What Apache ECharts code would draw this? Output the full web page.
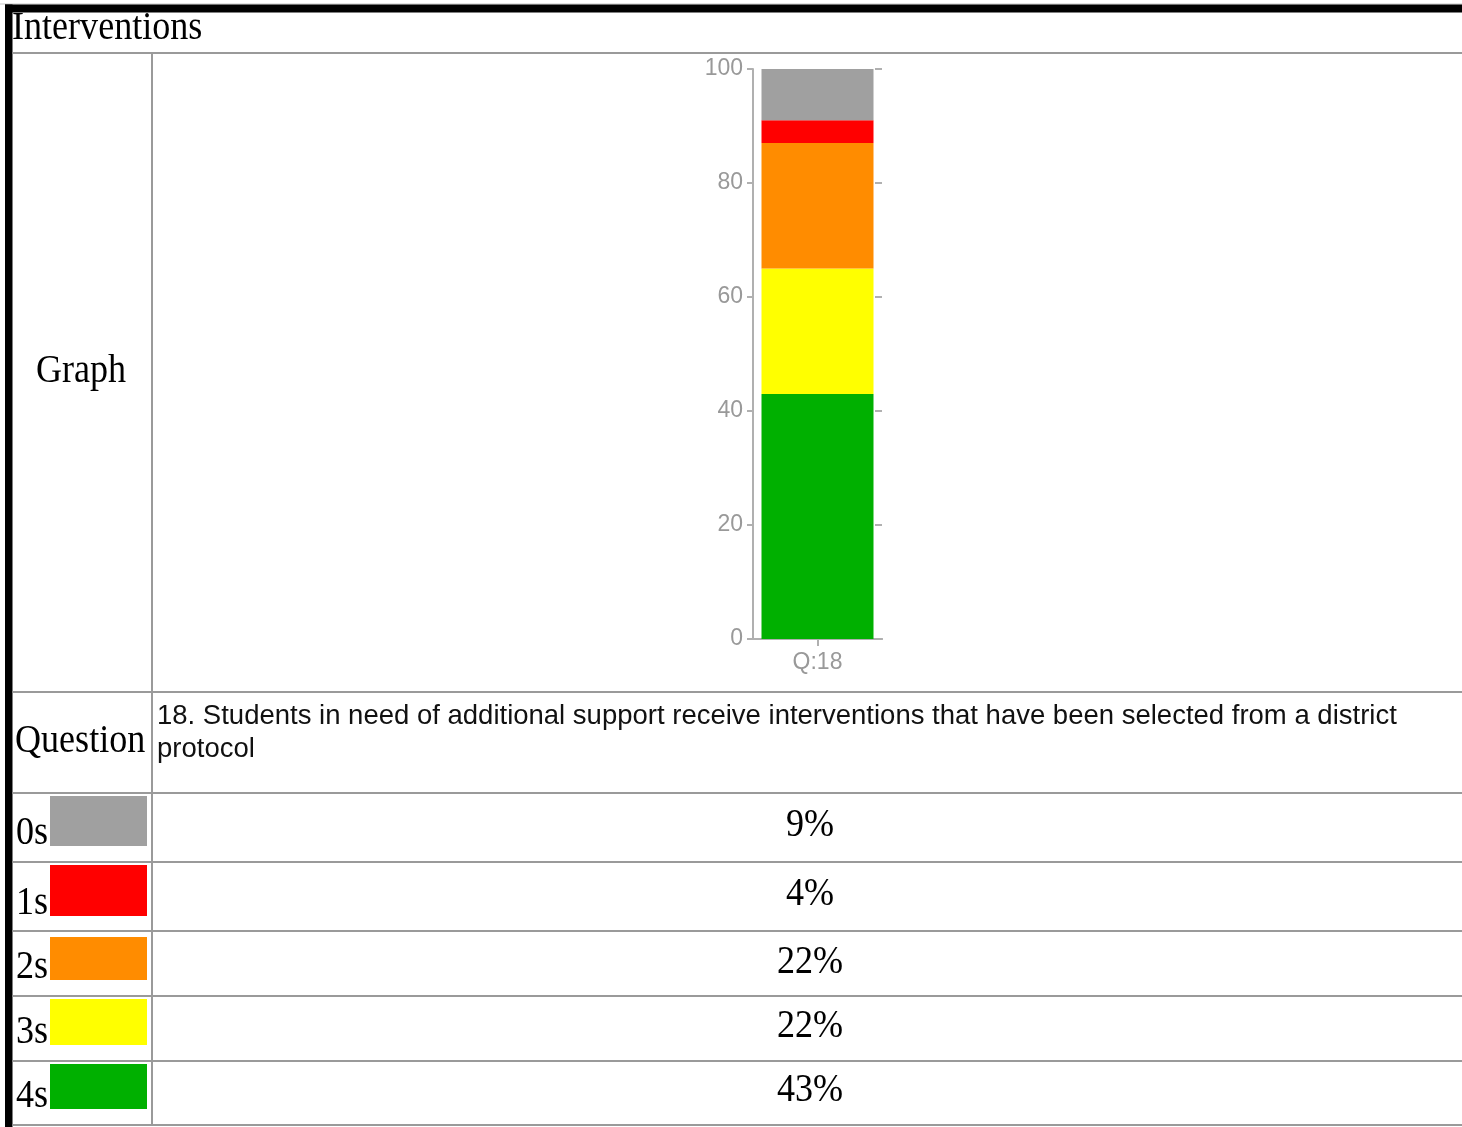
<!DOCTYPE html>
<html>
<head>
<meta charset="utf-8">
<title>Interventions</title>
<script src="https://cdn.jsdelivr.net/npm/echarts@6/dist/echarts.min.js"></script>
<style>
  html, body { margin: 0; padding: 0; background: #ffffff; }
  #chart { width: 1462px; height: 1127px; }
</style>
</head>
<body>
<div id="chart"></div>
<script>
// ---- data ----
const sectionTitle = 'Interventions';
const categories = ['Q:18'];
const questionText = '18. Students in need of additional support receive interventions that have been selected from a district protocol';
// score levels, listed as shown in the table (top to bottom)
const levels = ['0s', '1s', '2s', '3s', '4s'];
const percents = [9, 4, 22, 22, 43];
const levelColors = ['#a0a0a0', '#ff0000', '#ff8c00', '#ffff00', '#00b000'];
const yTicks = { min: 0, max: 100, interval: 20 };

// ---- layout ----
const W = 1462, H = 1127;
const colX = 152;                       // divider between label and content column
const rowLines = [53, 692, 793, 862, 931, 996, 1061, 1125];
const swatchTops = [796, 865, 937, 999, 1064];
const swatchBottoms = [846, 916, 980, 1045, 1109];
const serif = '"Liberation Serif", "Times New Roman", serif';
const sans = '"Liberation Sans", Arial, sans-serif';
const squeeze = 0.88;
const gridStroke = '#9a9a9a';

const chart = echarts.init(document.getElementById('chart'), null, { renderer: 'canvas' });

const graphics = [];

// frame: thick black top and left edges
graphics.push({ type: 'rect', shape: { x: 0, y: 3.5, width: W, height: 1 }, style: { fill: '#c8c8c8' }, silent: true });
graphics.push({ type: 'rect', shape: { x: 5, y: 4.5, width: W - 5, height: 8 }, style: { fill: '#000000' }, silent: true });
graphics.push({ type: 'rect', shape: { x: 5, y: 4.5, width: 7.5, height: H - 4.5 }, style: { fill: '#000000' }, silent: true });

// table rules
rowLines.forEach(function (y) {
  graphics.push({ type: 'line', shape: { x1: 12.5, y1: y, x2: W, y2: y }, style: { stroke: gridStroke, lineWidth: 2 }, silent: true });
});
graphics.push({ type: 'line', shape: { x1: colX, y1: rowLines[0], x2: colX, y2: rowLines[rowLines.length - 1] }, style: { stroke: gridStroke, lineWidth: 2 }, silent: true });

function serifText(str, x, y, align) {
  return {
    type: 'text', x: x, y: y, scaleX: squeeze, silent: true,
    style: { text: str, x: 0, y: 0, fill: '#000000', font: '41px ' + serif, align: align || 'left', verticalAlign: 'middle' }
  };
}

graphics.push(serifText(sectionTitle, 12, 28));
graphics.push(serifText('Graph', 36, 371));
graphics.push(serifText('Question', 15, 741));

// question wording, wrapped inside the content column
graphics.push({
  type: 'text', x: 157, y: 700, silent: true,
  style: {
    text: questionText, x: 0, y: 0, fill: '#111111',
    font: '27.5px ' + sans, lineHeight: 33,
    width: W - 162, overflow: 'break',
    align: 'left', verticalAlign: 'top'
  }
});

// level rows: label, colour swatch, percentage
const pctCenters = [825, 894, 962, 1026, 1090];
levels.forEach(function (lvl, i) {
  graphics.push(serifText(lvl, 16, swatchBottoms[i] - 13));
  graphics.push({
    type: 'rect', silent: true,
    shape: { x: 50, y: swatchTops[i], width: 97, height: swatchBottoms[i] - swatchTops[i] },
    style: { fill: levelColors[i] }
  });
  graphics.push(serifText(percents[i] + '%', 810, pctCenters[i], 'center'));
});

// stacked bar: lowest score level sits at the bottom
const stackOrder = levels.map(function (_, i) { return i; }).reverse();
const series = stackOrder.map(function (i) {
  return {
    name: levels[i],
    type: 'bar',
    stack: 'scores',
    barWidth: 112,
    data: [percents[i]],
    itemStyle: { color: levelColors[i] },
    emphasis: { disabled: true }
  };
});

const axisGrey = '#b0b0b0';
const option = {
  backgroundColor: '#ffffff',
  animation: false,
  grid: { left: 753, top: 69, width: 129, height: 570, containLabel: false },
  xAxis: [
    {
      type: 'category', data: categories, position: 'bottom',
      axisLine: { show: true, lineStyle: { color: axisGrey, width: 2 } },
      axisTick: { show: true, alignWithLabel: true, length: 7, lineStyle: { color: axisGrey, width: 2 } },
      axisLabel: { color: '#999999', fontSize: 23, fontFamily: sans, margin: 12 },
      splitLine: { show: false }
    },
    {
      type: 'category', data: categories, position: 'top',
      axisLine: { show: true, lineStyle: { color: axisGrey, width: 2 } },
      axisTick: { show: false }, axisLabel: { show: false }, splitLine: { show: false }
    }
  ],
  yAxis: [
    {
      type: 'value', min: yTicks.min, max: yTicks.max, interval: yTicks.interval, position: 'left',
      axisLine: { show: true, lineStyle: { color: axisGrey, width: 2 } },
      axisTick: { show: true, length: 6, lineStyle: { color: axisGrey, width: 2 } },
      axisLabel: { color: '#999999', fontSize: 23, fontFamily: sans, margin: 10 },
      splitLine: { show: false }
    },
    {
      type: 'value', min: yTicks.min, max: yTicks.max, interval: yTicks.interval, position: 'right',
      axisLine: { show: false },
      axisTick: { show: true, inside: true, length: 7, lineStyle: { color: axisGrey, width: 2 } },
      axisLabel: { show: false }, splitLine: { show: false }
    }
  ],
  series: series,
  graphic: graphics
};

chart.setOption(option);
</script>
</body>
</html>
